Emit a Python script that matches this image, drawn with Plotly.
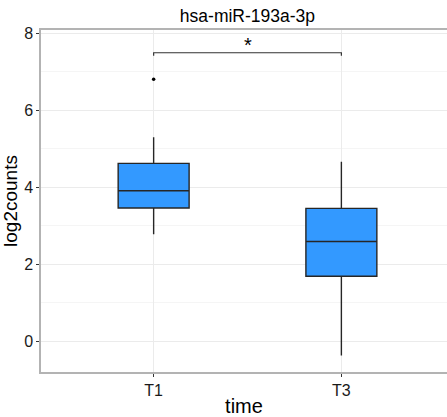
import plotly.graph_objects as go

# Data
groups = ["T1", "T3"]
q1 = [3.46, 1.69]
median = [3.91, 2.59]
q3 = [4.62, 3.45]
lower_whisker = [2.78, -0.37]
upper_whisker = [5.30, 4.66]
outlier_groups = ["T1"]
outlier_values = [6.80]
bracket_groups = ["T1", "T1", "T3", "T3"]
bracket_y = [7.41, 7.49, 7.49, 7.41]
signif_label = "*"
signif_y = 7.70

fig = go.Figure()
fig.add_trace(go.Box(
    x=groups, q1=q1, median=median, q3=q3,
    lowerfence=lower_whisker, upperfence=upper_whisker,
    fillcolor="#3399FF", line=dict(color="#262626", width=1.4),
    width=0.378, whiskerwidth=0, boxpoints=False, showlegend=False,
    hoverinfo="skip",
))
fig.add_trace(go.Scatter(
    x=outlier_groups, y=outlier_values, mode="markers",
    marker=dict(color="black", size=3.5), showlegend=False,
))
fig.add_trace(go.Scatter(
    x=bracket_groups, y=bracket_y, mode="lines",
    line=dict(color="#333333", width=1.2), showlegend=False,
))
fig.add_annotation(
    x=0.5, y=signif_y, xref="x", yref="y", text=signif_label,
    showarrow=False, font=dict(size=20, color="black", family="Liberation Sans"),
)

fig.update_layout(
    width=447, height=417,
    margin=dict(l=41, r=0, t=30, b=40),
    paper_bgcolor="white", plot_bgcolor="white",
    font=dict(family="Liberation Sans", color="#1a1a1a"),
    title=dict(text="hsa-miR-193a-3p", x=(41 + 453.9) / 2 / 447, xanchor="center",
               y=1 - 16 / 417, yanchor="middle",
               font=dict(size=17.5, color="black")),
)
fig.update_xaxes(
    type="category", range=[-0.6, 1.5626],
    showgrid=True, gridcolor="#ebebeb", gridwidth=1,
    showline=True, linecolor="#b3b3b3", linewidth=1.5, mirror=True,
    ticks="outside", ticklen=3, tickcolor="#333333",
    tickfont=dict(size=16, color="#1a1a1a"),
    title=dict(text="time", font=dict(size=20, color="black"), standoff=4),
    zeroline=False,
)
fig.update_yaxes(
    range=[-0.795, 8.08], tick0=0, dtick=2,
    showgrid=True, gridcolor="#ebebeb", gridwidth=1,
    minor=dict(showgrid=True, gridcolor="#f5f5f5", dtick=1, tick0=0),
    showline=True, linecolor="#b3b3b3", linewidth=1.5,
    ticks="outside", ticklen=3, tickcolor="#333333",
    tickfont=dict(size=16, color="#1a1a1a"),
    title=dict(text="log2counts", font=dict(size=19, color="black"), standoff=3),
    zeroline=False,
)

fig.write_html("out.html")
